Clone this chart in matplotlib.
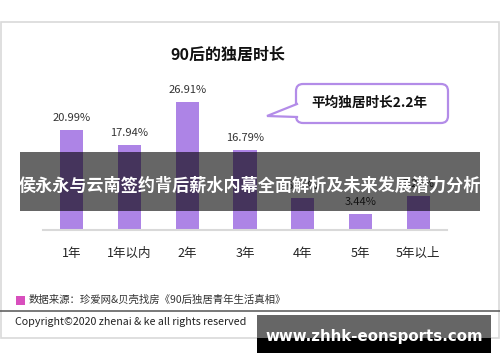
import matplotlib.pyplot as plt
from matplotlib.patches import Rectangle, FancyBboxPatch, Polygon

plt.rcParams['font.family'] = ['Noto Sans CJK SC', 'DejaVu Sans']

# 数据
categories = ["1年", "1年以内", "2年", "3年", "4年", "5年", "5年以上"]
shares = [20.99, 17.94, 26.91, 16.79, 6.71, 3.44, 7.22]

title = "90后的独居时长"
callout = "平均独居时长2.2年"
banner = "侯永永与云南签约背后薪水内幕全面解析及未来发展潜力分析"
source = "数据来源：珍爱网&贝壳找房《90后独居青年生活真相》"
copyright_text = "Copyright©2020 zhenai & ke all rights reserved"
watermark = "www.zhhk-eonsports.com"

BAR = "#ad84e6"
EDGE = "#b38ce8"
W, H = 500, 362

fig = plt.figure(figsize=(W / 100, H / 100), dpi=100)

# фон і рамка (піксельні координати)
bg = fig.add_axes([0, 0, 1, 1], zorder=0)
bg.set_xlim(0, W)
bg.set_ylim(H, 0)
bg.axis("off")
bg.add_patch(Rectangle((0.5, 22), 498.5, 316, fill=False, ec="#d9d9d9", lw=1.2))
bg.text(228, 55, title, ha="center", va="center", fontsize=11.5, fontweight="bold", color="#111")

# вказівник
bg.add_patch(FancyBboxPatch((296, 84), 152, 39, boxstyle="round,pad=0,rounding_size=7",
                            fc="white", ec=EDGE, lw=1.6, zorder=2))
bg.add_patch(Polygon([(267.5, 116), (300, 102.5), (300, 118)], closed=True, fc="white", ec="none", zorder=3))
bg.plot([297, 267, 297], [104, 116, 117], color=EDGE, lw=1.6, zorder=4, solid_joinstyle="miter")
bg.text(369, 103, callout, ha="center", va="center", fontsize=9.8, fontweight="bold", color="#111", zorder=5)

# джерело і копірайт
bg.add_patch(Rectangle((16, 295.5), 9, 9, fc="#d84fbd", ec="none"))
bg.text(29, 300, source, ha="left", va="center", fontsize=7.5, color="#333")
bg.plot([0, W], [311, 311], color="#555", lw=1.1)
bg.text(15, 322, copyright_text, ha="left", va="center", fontsize=7.7, color="#222")

# стовпчики
top_px = 22
base_px = 230
px_per_pct = 4.76
ax = fig.add_axes([43 / W, (H - base_px) / H, 404 / W, (base_px - top_px) / H], zorder=1)
ax.patch.set_alpha(0)
x = range(len(categories))
bars = ax.bar(x, shares, width=0.4, color=BAR)
ax.bar_label(bars, labels=[f"{v:.2f}%" for v in shares], padding=5, fontsize=8, color="#333")
ax.set_xlim(-0.5, len(categories) - 0.5)
ax.set_ylim(0, (base_px - top_px) / px_per_pct)
ax.set_xticks(list(x))
ax.set_xticklabels(categories, fontsize=9, color="#222")
ax.tick_params(axis="x", length=0, pad=12)
ax.set_yticks([])
for s in ["top", "right", "left"]:
    ax.spines[s].set_visible(False)
ax.spines["bottom"].set_color("#d9d9d9")
ax.spines["bottom"].set_linewidth(1.5)

# банер і водяний знак
ov = fig.add_axes([0, 0, 1, 1], zorder=3)
ov.set_xlim(0, W)
ov.set_ylim(H, 0)
ov.axis("off")
ov.patch.set_alpha(0)
ov.add_patch(Rectangle((20, 152), 460, 59, fc="black", alpha=0.6, ec="none"))
ov.text(250, 186, banner, ha="center", va="center", fontsize=12.3, fontweight="bold", color="white")
ov.add_patch(Rectangle((257, 315), 234, 23, fc="#666666", ec="none"))
ov.add_patch(Rectangle((257, 338), 234, 15, fc="black", ec="none"))
ov.text(374, 337, watermark, ha="center", va="center", fontsize=10.8, fontweight="bold",
        color="white", family="DejaVu Sans")

fig.savefig("out.png", dpi=100)
